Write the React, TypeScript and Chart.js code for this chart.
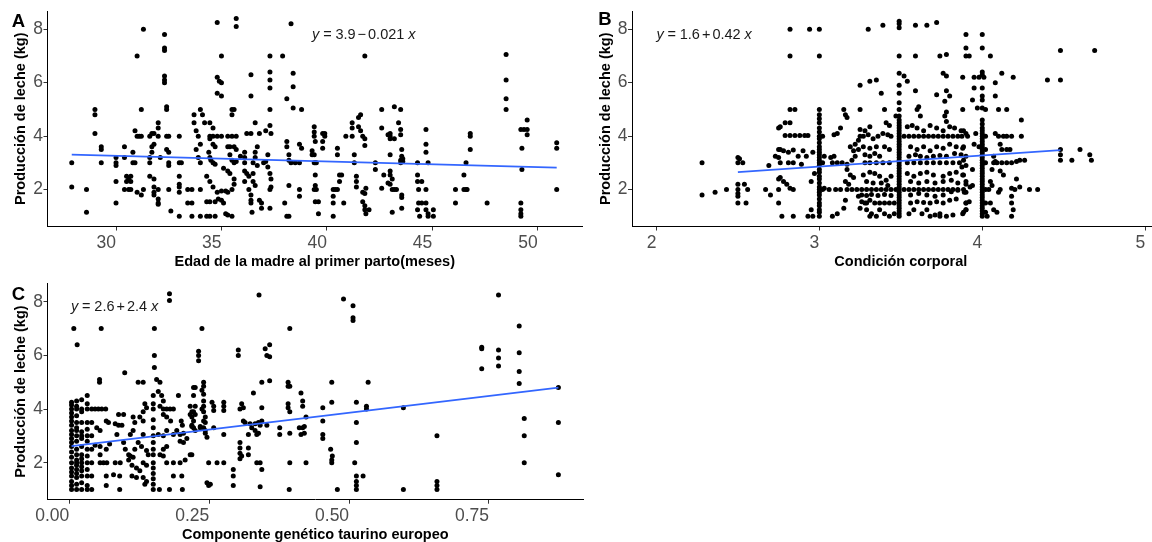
import React, { useEffect, useRef } from "react";
import { Chart, registerables } from "chart.js";
Chart.register(...registerables);

type P = [number, number];

// Panel A: Edad de la madre al primer parto (meses) vs producción de leche (kg)
const ageMilkPoints: P[] = [
  [27.9,3.0],[27.9,2.1],[28.6,2.0],[28.6,1.15],[29.0,5.0],[29.0,4.8],[29.0,4.1],[29.3,3.6],[29.3,3.5],[29.3,3.0],
  [30.0,3.0],[30.0,2.9],[30.0,3.2],[30.0,2.3],[30.0,1.5],[30.4,3.6],[30.4,3.2],[30.5,2.5],[30.6,2.4],[30.7,2.3],[30.5,2.3],[30.7,2.5],[30.4,2.0],[30.6,2.0],[30.7,2.0],[30.8,3.0],[30.9,3.0],[30.8,3.4],[30.9,4.2],[31.0,4.0],[31.1,4.0],[31.2,4.0],[31.0,1.9],[31.2,1.8],[31.0,7.0],[31.2,5.0],[31.3,8.0],[31.3,2.0],
  [31.6,4.0],[31.7,4.1],[31.8,4.1],[31.6,3.0],[31.6,3.2],[31.7,3.4],[31.6,2.5],[31.8,2.4],[31.8,2.1],[31.8,1.9],[31.8,1.8],[31.7,3.6],[31.8,3.7],
  [32.0,4.5],[32.0,4.3],[32.0,4.0],[32.0,1.65],[32.0,1.5],[32.0,1.45],[32.0,2.0],[32.1,3.2],
  [32.3,7.8],[32.3,7.3],[32.3,7.2],[32.3,6.25],[32.3,6.1],[32.3,6.0],[32.4,5.1],[32.4,5.0],[32.4,4.0],[32.5,4.0],[32.4,3.5],[32.5,3.4],[32.5,3.0],[32.5,2.9],[32.5,2.0],[32.6,1.2],
  [33.0,4.0],[33.0,3.0],[33.1,3.0],[33.0,2.5],[33.0,2.2],[33.0,2.1],[33.0,1.9],[33.0,1.0],[33.4,2.0],[33.4,1.5],[33.6,1.5],[33.6,1.0],[33.7,4.8],[33.7,4.5],[33.8,3.5],[33.8,4.2],[33.9,4.0],[33.9,3.2],[34.0,3.0],[34.0,1.0],[34.0,2.0],[34.0,5.0],[34.0,3.7],[33.6,2.0],
  [34.8,8.25],[35.7,8.4],[35.7,8.1],[38.3,8.2],
  [35.0,7.0],[37.3,7.0],[37.9,7.0],[41.8,7.0],
  [34.8,6.2],[34.9,6.05],[35.0,6.0],[34.8,5.6],[35.0,5.5],[36.4,6.3],[36.4,5.5],[37.3,6.4],[37.3,6.1],[37.3,5.8],[38.4,6.35],[38.4,5.85],[38.1,5.4],[38.4,5.05],[38.8,5.0],[37.3,5.0],[35.5,5.0],[35.6,5.0],[35.5,4.8],
  [34.1,4.8],[34.2,4.5],[34.45,4.5],[34.6,4.3],[34.45,4.0],[34.6,4.0],[34.8,4.0],[35.0,4.0],[35.3,4.0],[35.5,4.0],[35.7,4.0],[34.45,3.9],[34.6,3.7],[34.7,3.6],[34.4,3.4],[34.45,3.2],[34.5,3.1],[34.6,3.0],[34.7,2.95],
  [34.3,1.55],[34.45,1.55],[34.7,1.55],[34.3,1.0],[34.45,1.0],[34.7,1.0],[34.3,2.5],[34.45,2.3],[34.6,2.1],[34.8,1.9],[34.85,1.65],[35.0,1.6],[35.1,1.5],[35.2,1.1],[35.3,1.05],[35.5,1.0],
  [35.1,2.8],[35.3,2.7],[35.4,2.6],[35.6,2.4],[35.6,2.2],[35.5,2.0],[35.3,1.9],[35.2,1.95],[35.0,1.95],
  [35.3,3.6],[35.4,3.6],[35.6,3.6],[35.7,3.5],[35.4,3.3],[35.5,3.1],[35.6,3.0],[35.7,3.05],[35.9,3.25],
  [36.1,3.4],[36.1,3.2],[36.1,3.0],[36.1,2.7],[36.1,2.3],[36.2,2.6],[36.3,2.5],[36.3,2.0],[36.4,1.8],[36.4,1.6],[36.4,1.5],[36.45,1.15],[36.2,4.1],[36.4,4.1],[36.6,4.5],[36.6,3.4],[36.6,3.2],[36.7,3.6],[36.5,3.0],[36.7,2.9],[36.5,2.6],[36.5,2.3],[36.6,2.15],
  [36.8,4.1],[36.8,1.6],[36.9,1.5],[36.9,1.3],[37.1,4.2],[37.3,4.4],[37.35,4.1],[37.0,3.0],[37.1,3.05],[37.2,2.85],[37.3,2.6],[37.35,2.4],[37.35,2.1],[37.3,2.0],[37.3,1.3],[37.2,3.3],
  [38.1,3.8],[38.1,3.6],[38.2,3.3],[38.2,3.1],[38.3,3.0],[38.2,2.15],[38.0,1.5],[38.1,1.0],[38.2,1.0],[38.5,3.0],[38.7,3.0],[38.7,3.7],[38.8,3.55],[38.7,2.0],[38.7,1.75],
  [39.3,3.3],[39.3,3.45],[39.4,3.3],[39.4,4.35],[39.4,4.15],[39.4,4.0],[39.45,3.8],[39.4,3.0],[39.45,3.0],[39.5,3.0],[39.45,2.55],[39.45,2.15],[39.4,2.0],[39.5,2.0],[39.45,1.55],[39.6,1.55],[39.6,1.1],
  [39.8,4.1],[39.8,3.8],[39.8,3.55],[39.9,4.1],[39.9,4.0],
  [40.3,2.0],[40.3,1.75],[40.3,1.5],[40.3,1.0],[40.4,2.0],[40.5,2.0],[40.5,3.55],[40.5,3.3],[40.6,2.55],[40.6,2.3],[40.7,2.55],[40.8,1.5],[40.9,4.0],
  [41.2,4.5],[41.2,4.3],[41.2,4.0],[41.3,3.3],[41.3,3.0],[41.4,2.5],[41.4,2.3],[41.4,2.1],[41.5,4.7],[41.6,4.8],[41.5,4.35],[41.6,4.2],[41.7,4.0],[41.8,3.9],[41.8,3.65],[41.7,1.9],[41.8,1.85],[41.85,2.05],[41.7,1.55],[41.8,1.4],[41.8,1.25],[41.85,1.1],[42.0,1.25],[42.3,3.0],[42.3,2.75],[42.6,5.0],[42.6,4.3],[42.6,2.05],[42.9,4.05],[42.9,2.25],
  [43.0,4.1],[43.0,4.0],[43.0,3.9],[43.2,3.9],[43.2,5.1],[43.5,5.0],[43.0,3.3],[42.7,2.55],[43.0,2.2],[43.0,2.7],[43.0,2.55],[43.1,2.4],[43.1,2.0],[43.2,2.0],[43.3,2.0],[43.1,1.15],[43.4,4.5],[43.5,4.25],[43.5,4.05],[43.55,3.5],[43.55,3.25],[43.5,3.1],[43.5,3.0],[43.6,3.05],[43.6,3.15],[43.55,1.8],[43.55,1.7],[43.55,1.3],
  [44.3,3.0],[44.3,2.55],[44.3,2.3],[44.35,2.0],[44.7,2.0],[44.35,1.5],[44.5,1.5],[44.7,1.5],[44.3,1.25],[44.4,1.0],[44.5,2.3],[44.7,4.25],[44.7,3.7],[44.7,3.4],[44.8,3.0],[44.7,1.25],[44.8,1.1],[44.8,1.0],[45.05,1.25],[45.05,1.0],
  [46.1,2.0],[46.1,1.5],[46.5,2.55],[46.5,2.0],[46.6,2.0],[46.65,2.0],[46.6,3.0],[46.8,4.1],[46.8,4.0],[46.8,3.5],[47.6,1.5],
  [48.5,7.05],[48.5,6.1],[48.5,5.4],[48.5,5.0],
  [49.2,4.25],[49.35,4.25],[49.5,4.6],[49.5,4.25],[49.5,4.05],[49.25,3.55],[49.25,2.75],[49.2,1.5],[49.2,1.25],[49.2,1.1],[49.2,1.0],
  [50.9,3.75],[50.9,3.55],[50.9,2.0],
];

// Panel B: Condición corporal vs producción de leche (kg)
const conditionMilkPoints: P[] = [
  [2.28,3.0],[2.28,1.8],[2.36,1.9],[2.43,2.0],[2.5,3.2],[2.51,3.15],[2.5,3.0],[2.53,3.0],[2.5,2.2],[2.5,2.0],[2.5,1.85],[2.5,1.75],[2.5,1.5],[2.54,2.2],[2.56,2.0],[2.55,1.5],[2.67,2.0],[2.7,1.8],[2.69,2.9],[2.75,4.3],[2.75,3.5],[2.75,3.2],[2.75,2.4],[2.75,2.0],[2.75,1.5],
  [2.82,8.0],[2.94,8.0],[2.82,7.0],[2.82,5.0],[2.85,5.0],[2.79,4.5],[2.82,4.5],[2.79,4.02],[2.82,4.02],[2.85,4.02],[2.88,4.02],[2.91,4.02],[2.93,4.02],[2.76,4.35],[2.76,3.5],[2.78,3.45],[2.81,3.4],[2.84,3.48],[2.87,3.25],[2.9,3.45],[2.73,3.25],[2.76,3.0],[2.81,3.0],[2.84,3.0],[2.89,2.95],[2.92,3.25],[2.96,3.4],[2.76,2.45],[2.78,2.3],[2.8,2.2],[2.82,2.05],[2.84,2.0],[2.77,1.0],[2.84,1.0],[2.93,1.0],[2.95,1.25],[2.96,1.0],[2.97,2.6],[2.95,2.3],
  [3.0,1.0],[3.0,1.15],[3.0,1.25],[3.0,1.4],[3.0,1.5],[3.0,1.65],[3.0,1.8],[3.0,1.9],[3.0,2.0],[3.0,2.1],[3.0,2.25],[3.0,2.4],[3.0,2.5],[3.0,2.65],[3.0,2.75],[3.0,2.9],[3.0,3.0],[3.0,3.1],[3.0,3.2],[3.0,3.3],[3.0,3.4],[3.0,3.5],[3.0,3.6],[3.0,3.75],[3.0,3.9],[3.0,4.0],[3.0,4.15],[3.0,4.3],[3.0,4.5],[3.0,4.65],[3.0,4.8],[3.0,5.0],[3.0,7.0],[3.0,8.0],[3.02,2.0],[3.02,3.0],[3.02,4.0],
  [3.03,3.25],[3.07,3.2],[3.09,3.25],[3.08,3.0],[3.11,3.0],[3.14,3.0],[3.17,2.95],[3.2,3.1],[3.22,3.25],[3.09,4.05],[3.11,4.1],[3.13,4.3],[3.03,2.05],[3.06,2.0],[3.1,2.0],[3.13,2.0],[3.16,1.6],[3.15,1.3],[3.11,1.1],[3.08,1.0],[3.17,2.75],[3.19,2.55],[3.21,2.45],[3.16,2.3],[3.18,2.2],[3.19,3.6],[3.22,3.7],[3.24,3.85],[3.25,4.0],[3.21,3.45],[3.24,3.5],[3.25,4.25],
  [3.15,5.0],[3.16,4.8],[3.17,4.7],[3.25,5.0],[3.25,5.9],[3.31,6.05],[3.35,6.1],[3.38,5.6],[3.4,5.0],[3.3,8.0],[3.39,8.15],
  [3.24,1.75],[3.26,1.55],[3.29,1.5],[3.31,1.6],[3.25,1.3],[3.29,1.25],[3.32,1.1],[3.35,1.0],[3.31,1.0],
  [3.17,2.0],[3.2,2.0],[3.23,2.0],[3.26,2.0],[3.29,2.0],[3.32,2.0],[3.35,2.0],[3.38,2.0],[3.41,2.0],[3.44,2.0],[3.47,2.0],
  [3.28,1.5],[3.34,1.5],[3.37,1.5],[3.40,1.5],[3.43,1.5],[3.46,1.5],
  [3.28,3.3],[3.31,3.25],[3.34,3.35],[3.37,3.25],[3.28,3.0],[3.31,3.0],[3.35,3.0],[3.39,3.0],[3.43,3.0],
  [3.27,4.0],[3.3,4.05],[3.33,3.9],[3.36,4.0],[3.39,4.1],[3.42,4.05],[3.44,4.0],[3.31,4.35],[3.28,4.2],[3.41,4.5],[3.43,4.4],
  [3.27,3.6],[3.31,3.55],[3.35,3.6],[3.4,3.6],[3.43,3.5],
  [3.27,2.55],[3.31,2.65],[3.34,2.6],[3.37,2.5],[3.41,2.35],[3.44,2.5],[3.29,2.3],[3.33,2.25],[3.38,2.25],[3.42,2.15],
  [3.26,1.8],[3.29,1.78],[3.32,1.82],[3.36,1.78],[3.4,1.82],[3.44,1.78],
  [3.37,1.25],[3.4,1.1],[3.43,1.0],[3.46,1.1],[3.47,4.75],
  [3.49,1.0],[3.49,1.1],[3.49,1.2],[3.49,1.3],[3.49,1.4],[3.49,1.5],[3.49,1.6],[3.49,1.7],[3.49,1.8],[3.49,1.9],[3.49,2.0],[3.49,2.1],[3.49,2.2],[3.49,2.3],[3.49,2.4],[3.49,2.5],[3.49,2.6],[3.49,2.7],[3.49,2.8],[3.49,2.9],[3.49,3.0],[3.49,3.1],[3.49,3.2],[3.49,3.3],[3.49,3.4],[3.49,3.5],[3.49,3.6],[3.49,3.7],[3.49,3.8],[3.49,3.9],[3.49,4.0],[3.49,4.1],[3.49,4.2],[3.49,4.3],[3.49,4.4],[3.49,4.5],[3.49,4.6],[3.49,4.75],[3.49,5.0],[3.49,5.25],[3.49,5.6],[3.49,5.9],[3.49,6.35],[3.52,6.25],[3.54,6.05],[3.49,7.0],[3.49,8.05],[3.49,8.2],[3.49,8.3],
  [3.59,8.15],[3.66,8.15],[3.72,8.25],[3.59,7.0],[3.74,7.0],[3.78,7.05],[3.9,7.0],[3.9,7.8],[3.76,6.35],[3.78,6.25],[3.88,6.2],[3.59,5.7],[3.78,5.7],[3.8,5.5],[3.77,5.3],[3.72,5.55],[3.88,5.0],[3.6,5.0],[3.61,5.1],[3.78,4.9],[3.77,4.75],[3.78,4.55],[3.62,4.75],
  [3.52,4.0],[3.55,4.0],[3.58,4.0],[3.61,4.0],[3.64,4.0],[3.67,4.0],[3.70,4.0],[3.73,4.0],[3.76,4.0],[3.79,4.0],[3.82,4.0],[3.85,4.0],[3.91,4.0],
  [3.54,3.0],[3.58,3.0],[3.62,3.0],[3.66,3.0],[3.7,3.0],[3.74,3.0],[3.78,3.0],[3.82,3.0],[3.86,3.0],
  [3.52,2.0],[3.55,2.0],[3.58,2.0],[3.61,2.0],[3.64,2.0],[3.67,2.0],[3.7,2.0],[3.73,2.0],[3.76,2.0],[3.79,2.0],[3.82,2.0],[3.85,2.0],
  [3.54,4.35],[3.57,4.4],[3.6,4.3],[3.64,4.2],[3.68,4.4],[3.72,4.3],[3.76,4.2],[3.8,4.35],[3.83,4.3],[3.87,4.2],
  [3.56,3.6],[3.6,3.5],[3.64,3.6],[3.68,3.45],[3.72,3.6],[3.76,3.55],[3.8,3.7],[3.84,3.6],[3.88,3.55],
  [3.55,3.25],[3.59,3.3],[3.62,3.25],[3.66,3.2],[3.7,3.25],[3.74,3.28],[3.78,3.25],[3.83,3.35],[3.87,3.3],
  [3.54,2.6],[3.58,2.5],[3.62,2.6],[3.66,2.65],[3.7,2.55],[3.76,2.5],[3.8,2.6],[3.84,2.65],[3.88,2.55],
  [3.56,2.3],[3.61,2.25],[3.66,2.3],[3.71,2.25],[3.76,2.3],[3.81,2.35],[3.85,2.25],[3.9,2.3],
  [3.56,1.8],[3.61,1.85],[3.66,1.8],[3.71,1.75],[3.76,1.8],[3.81,1.92],[3.85,1.98],[3.89,1.9],
  [3.56,1.5],[3.6,1.55],[3.64,1.52],[3.68,1.5],[3.72,1.55],[3.76,1.5],[3.8,1.6],[3.84,1.65],[3.9,1.5],
  [3.55,1.1],[3.58,1.25],[3.63,1.1],[3.66,1.25],[3.71,1.05],[3.74,1.1],[3.78,1.0],[3.82,1.05],[3.88,1.1],[3.9,1.25],[3.68,1.0],[3.74,1.0],
  [4.0,7.8],[3.9,7.3],[4.0,7.3],[3.92,7.0],[4.05,7.0],[4.48,7.2],[4.69,7.2],
  [4.0,6.4],[4.0,6.3],[3.98,6.2],[4.01,6.2],[3.95,6.2],[4.12,6.35],[4.19,6.2],[4.4,6.1],[4.48,6.1],[4.08,6.0],[3.95,5.8],[4.0,5.8],[4.08,5.5],[4.0,5.5],[4.0,5.35],[3.94,5.35],[3.97,5.05],[4.0,5.05],[4.02,5.0],[4.1,5.0],[4.15,5.0],[4.24,4.6],[4.0,4.6],
  [4.0,1.0],[4.0,1.1],[4.0,1.2],[4.0,1.3],[4.0,1.4],[4.0,1.5],[4.0,1.6],[4.0,1.7],[4.0,1.8],[4.0,1.9],[4.0,2.0],[4.0,2.1],[4.0,2.2],[4.0,2.3],[4.0,2.4],[4.0,2.5],[4.0,2.6],[4.0,2.7],[4.0,2.8],[4.0,2.9],[4.0,3.0],[4.0,3.1],[4.0,3.2],[4.0,3.3],[4.0,3.4],[4.0,3.5],[4.0,3.6],[4.0,3.7],[4.0,3.8],[4.0,3.9],[4.0,4.0],[4.0,4.1],[4.0,4.2],[4.0,4.3],[4.0,4.45],[4.02,3.0],[4.02,2.0],[4.02,4.0],[4.02,3.5],[4.02,1.5],
  [4.08,4.1],[4.1,4.0],[4.13,4.0],[4.15,4.0],[4.18,4.0],[4.24,4.0],[3.885,4.2],[3.9,4.1],[3.875,4.0],[3.96,4.1],
  [3.95,3.7],[3.98,3.6],[4.11,3.7],[4.12,3.5],[4.15,3.5],[4.17,3.5],[3.885,3.6],
  [4.07,3.25],[4.08,3.05],[4.07,3.0],[4.09,3.0],[4.12,3.0],[4.15,3.0],[4.18,3.0],[4.21,3.05],[4.23,3.1],[4.26,3.1],[4.48,3.5],[4.48,3.3],[4.48,3.1],[4.55,3.1],[4.6,3.5],[4.66,3.3],[4.67,3.1],
  [3.885,3.1],[3.9,3.25],[3.875,2.85],[3.9,2.9],[3.94,2.75],
  [3.885,2.55],[3.9,2.2],[3.925,2.1],[3.885,2.0],[3.9,1.9],[3.94,2.15],
  [4.06,2.75],[4.11,2.7],[4.13,2.55],[4.05,2.3],[4.06,2.15],[4.04,2.0],[4.11,2.0],[4.1,1.9],[4.18,2.05],[4.2,2.0],[4.23,2.1],[4.21,2.4],[4.29,2.0],[4.34,2.0],[4.18,1.75],[4.18,1.5],[4.19,1.25],[4.18,1.0],
  [4.05,1.5],[4.07,1.25],[4.09,1.15],[3.9,1.5],[3.9,1.25],[3.885,1.15],[3.92,1.55],[4.02,1.15],[4.03,1.0],
];

// Panel C: Componente genético taurino europeo vs producción de leche (kg)
const taurineMilkPoints: P[] = [
  [0.004,1.0],[0.004,1.15],[0.004,1.3],[0.004,1.5],[0.004,1.65],[0.004,1.8],[0.004,2.0],[0.004,2.2],[0.004,2.4],[0.004,2.6],[0.004,2.75],[0.004,2.9],[0.004,3.05],[0.004,3.2],[0.004,3.4],[0.004,3.55],[0.004,3.7],[0.004,3.85],[0.004,4.0],[0.004,4.15],[0.004,4.25],
  [0.013,1.0],[0.013,1.2],[0.013,1.45],[0.013,1.6],[0.013,1.75],[0.013,1.9],[0.013,2.0],[0.013,2.1],[0.013,2.3],[0.013,2.5],[0.013,2.8],[0.013,3.0],[0.013,3.2],[0.013,3.3],[0.013,3.5],[0.013,3.75],[0.013,4.0],[0.013,4.1],[0.013,4.3],
  [0.022,1.0],[0.022,1.25],[0.022,1.5],[0.022,1.7],[0.022,1.85],[0.022,2.0],[0.022,2.15],[0.022,2.3],[0.022,2.6],[0.022,2.9],[0.022,3.0],[0.022,3.15],[0.022,3.5],[0.022,3.9],[0.022,4.0],[0.022,4.35],
  [0.032,1.0],[0.032,1.15],[0.032,1.5],[0.032,1.75],[0.032,2.0],[0.032,2.25],[0.032,2.5],[0.032,2.8],[0.032,3.0],[0.032,3.25],[0.032,3.5],[0.032,4.0],[0.032,4.2],[0.032,4.5],
  [0.04,1.5],[0.04,2.0],[0.04,3.0],[0.04,3.5],[0.04,4.0],[0.04,2.5],[0.04,1.0],
  [0.008,7.0],[0.014,6.4],
  [0.046,4.0],[0.052,4.0],[0.058,4.0],[0.065,4.0],[0.055,3.2],[0.049,3.3],[0.046,2.65],[0.055,2.6],[0.055,2.0],[0.061,2.0],[0.067,2.0],[0.055,2.3],
  [0.054,5.1],[0.054,5.0],[0.057,7.0],
  [0.066,3.55],[0.07,3.5],[0.066,1.5],[0.066,1.15],[0.066,2.5],[0.072,2.7],
  [0.082,3.45],[0.088,3.4],[0.094,3.4],[0.088,3.8],[0.097,3.8],[0.085,3.05],[0.082,2.0],[0.091,2.0],[0.09,1.0],[0.09,1.5],[0.079,1.55],
  [0.099,5.35],
  [0.097,2.75],[0.1,2.5],[0.106,2.3],[0.109,2.25],[0.114,2.2],[0.117,2.5],[0.106,2.1],[0.112,1.9],[0.12,1.8],[0.126,1.7],[0.112,1.5],[0.12,1.45],[0.114,3.7],[0.117,3.5],[0.109,3.05],[0.114,3.2],
  [0.123,5.0],[0.132,5.0],[0.135,4.2],[0.138,4.05],[0.132,3.9],[0.126,3.7],[0.132,3.55],[0.132,3.05],[0.123,2.75],[0.129,2.6],[0.138,2.45],[0.141,2.3],[0.132,2.0],[0.138,1.9],[0.132,1.45],[0.138,1.3],[0.135,1.2],
  [0.15,1.0],[0.15,1.2],[0.15,1.4],[0.15,1.6],[0.15,1.8],[0.15,2.0],[0.15,2.3],[0.15,2.5],[0.15,2.75],[0.15,3.0],[0.15,3.3],[0.15,3.6],[0.15,4.0],[0.15,4.2],[0.15,4.5],[0.152,7.0],[0.152,6.0],[0.152,5.55],
  [0.156,5.1],[0.162,5.0],[0.159,4.65],[0.165,4.5],[0.168,4.3],[0.159,3.05],[0.168,3.0],[0.174,3.2],[0.162,4.1],[0.168,4.0],[0.174,4.0],[0.18,4.0],[0.186,4.0],[0.168,3.8],[0.174,3.7],[0.181,3.55],[0.162,2.3],[0.168,2.25],[0.174,2.0],[0.186,2.0],[0.161,1.0],[0.179,1.0],[0.186,1.5],[0.168,2.5],[0.174,2.6],
  [0.179,8.3],[0.179,8.05],
  [0.186,3.05],[0.192,3.2],[0.198,3.05],[0.204,3.1],[0.2,3.55],[0.202,3.4],[0.198,2.8],[0.204,2.75],[0.195,4.5],[0.201,1.5],[0.202,1.0],[0.198,2.0],[0.207,2.1],[0.219,2.3],
  [0.216,4.1],[0.219,3.9],[0.222,4.8],[0.219,3.35],[0.225,3.2],[0.222,3.55],
  [0.231,6.15],[0.231,6.0],[0.231,5.8],[0.21,2.9],[0.234,3.35],
  [0.237,7.0],[0.24,5.0],[0.24,4.85],[0.237,4.7],[0.24,4.55],[0.225,4.8],[0.222,4.5],
  [0.24,4.3],[0.24,4.1],[0.237,4.0],[0.24,3.9],[0.243,3.7],[0.24,3.55],[0.243,3.5],
  [0.216,3.8],[0.225,4.1],[0.222,3.9],[0.225,3.8],[0.219,3.7],[0.219,3.4],[0.222,3.3],
  [0.234,3.3],[0.24,3.3],[0.243,3.2],[0.246,2.95],[0.243,3.1],[0.258,3.3],
  [0.249,2.0],[0.264,2.0],[0.276,2.0],[0.246,1.25],[0.249,1.15],[0.252,1.2],
  [0.255,4.25],[0.258,4.1],[0.258,3.95],[0.276,4.25],[0.276,4.1],[0.276,3.95],[0.276,3.05],[0.216,2.3],
  [0.293,1.75],[0.293,1.5],[0.293,1.15],
  [0.302,6.2],[0.302,6.0],[0.308,4.2],[0.311,4.05],[0.305,4.0],[0.305,2.75],[0.305,2.55],[0.305,2.35],[0.308,2.25],[0.305,2.15],[0.32,2.55],[0.32,2.3],[0.311,3.55],[0.314,3.5],[0.32,3.05],[0.326,3.3],[0.329,4.6],
  [0.323,3.45],[0.332,3.45],[0.338,3.5],[0.341,3.4],[0.344,3.55],[0.332,3.2],[0.335,3.05],[0.338,3.1],
  [0.335,2.0],[0.341,2.0],[0.344,1.75],[0.341,1.1],[0.344,5.0],[0.344,4.05],[0.353,3.4],
  [0.35,6.25],[0.353,6.0],[0.358,6.4],[0.358,5.95],[0.358,5.05],[0.339,8.25],
  [0.376,3.3],[0.376,3.05],[0.391,4.2],[0.391,4.05],[0.394,3.9],[0.394,3.1],[0.394,2.0],[0.393,1.0],[0.391,5.0],[0.391,4.85],[0.394,4.85],[0.394,7.0],
  [0.414,4.6],[0.417,4.3],[0.417,4.1],[0.411,3.3],[0.417,3.3],[0.42,3.35],[0.414,3.05],[0.42,3.1],[0.423,3.7],[0.423,2.0],
  [0.453,4.05],[0.453,3.55],[0.453,3.05],[0.453,2.9],[0.469,5.0],[0.469,4.25],[0.467,2.5],[0.47,2.25],[0.469,2.1],[0.469,2.0],[0.479,1.0],
  [0.49,8.1],[0.507,7.85],[0.507,7.4],[0.507,7.3],
  [0.513,4.25],[0.513,3.5],[0.513,2.75],[0.51,2.0],[0.513,1.5],[0.513,1.3],[0.513,1.15],[0.513,1.0],[0.525,1.5],
  [0.531,4.1],[0.531,4.0],[0.534,5.0],
  [0.597,4.05],[0.597,1.0],[0.657,3.0],[0.657,1.3],[0.657,1.15],[0.657,1.0],[0.737,6.3],[0.737,6.25],[0.737,5.5],[0.767,8.25],[0.767,6.2],[0.767,5.9],[0.767,5.6],[0.804,7.1],[0.804,6.1],[0.804,5.4],[0.804,4.95],[0.813,3.65],[0.813,3.0],[0.813,2.0],[0.874,4.8],[0.874,3.5],[0.874,1.55],
];

// Fitted regression lines (end points)
const ageFitLine: P[] = [[27.9, 3.31], [50.9, 2.82]];
const conditionFitLine: P[] = [[2.5, 2.65], [4.48, 3.48]];
const taurineFitLine: P[] = [[0.004, 2.62], [0.874, 4.8]];

// Equations
const ageEquation = ["y", "=", "3.9", "\u2212", "0.021", "x"];
const conditionEquation = ["y", "=", "1.6", "+", "0.42", "x"];
const taurineEquation = ["y", "=", "2.6", "+", "2.4", "x"];

// Ticks
const milkTicks = [2, 4, 6, 8];
const ageTicks = [30, 35, 40, 45, 50];
const ageTickLabels = ["30", "35", "40", "45", "50"];
const conditionTicks = [2, 3, 4, 5];
const conditionTickLabels = ["2", "3", "4", "5"];
const taurineTicks = [0, 0.25, 0.5, 0.75];
const taurineTickLabels = ["0.00", "0.25", "0.50", "0.75"];

const yTitle = "Producción de leche (kg)";
const FONT = "'Liberation Sans', Arimo, Arial, sans-serif";

interface PanelCfg {
  letter: string;
  letterPos: [number, number];
  box: { left: number; top: number; width: number; height: number };
  area: { left: number; top: number; right: number; bottom: number };
  xMin: number; xMax: number; yMin: number; yMax: number;
  xTicks: number[]; xTickLabels: string[];
  xTitle: string; xTitlePad: number;
  points: P[]; fit: P[];
  eq: string[]; eqPos: [number, number];
}

const panels: PanelCfg[] = [
  {
    letter: "A", letterPos: [11.7, 26.7],
    box: { left: 0, top: 0, width: 590, height: 272 },
    area: { left: 47.5, top: 10, right: 582, bottom: 226.5 },
    xMin: 26.75, xMax: 52.1, yMin: 0.62, yMax: 8.68,
    xTicks: ageTicks, xTickLabels: ageTickLabels,
    xTitle: "Edad de la madre al primer parto(meses)", xTitlePad: 1.5,
    points: ageMilkPoints, fit: ageFitLine,
    eq: ageEquation, eqPos: [39.3, 7.8],
  },
  {
    letter: "B", letterPos: [18.3, 25],
    box: { left: 580, top: 0, width: 600, height: 272 },
    area: { left: 52, top: 10, right: 589.6, bottom: 226.5 },
    xMin: 1.85, xMax: 5.15, yMin: 0.62, yMax: 8.68,
    xTicks: conditionTicks, xTickLabels: conditionTickLabels,
    xTitle: "Condición corporal", xTitlePad: 1.5,
    points: conditionMilkPoints, fit: conditionFitLine,
    eq: conditionEquation, eqPos: [2.0, 7.8],
  },
  {
    letter: "C", letterPos: [11.7, 28],
    box: { left: 0, top: 272, width: 600, height: 280 },
    area: { left: 47.5, top: 11.5, right: 583, bottom: 227.7 },
    xMin: -0.039, xMax: 0.918, yMin: 0.62, yMax: 8.68,
    xTicks: taurineTicks, xTickLabels: taurineTickLabels,
    xTitle: "Componente genético taurino europeo", xTitlePad: 8.8,
    points: taurineMilkPoints, fit: taurineFitLine,
    eq: taurineEquation, eqPos: [0.003, 7.8],
  },
];

const tickFont = { family: FONT, size: 17.5 };
const titleFont = { family: FONT, size: 14.5, weight: "bold" as const };
const axisGrid = {
  display: true, drawOnChartArea: false, drawTicks: true,
  tickLength: 4, tickWidth: 1, tickColor: "#333333", color: "#333333",
};
const axisBorder = { display: true, color: "#000000", width: 1 };

function Panel({ cfg }: { cfg: PanelCfg }) {
  const ref = useRef<HTMLCanvasElement>(null);
  useEffect(() => {
    const canvas = ref.current;
    if (!canvas) return;
    const { box, area } = cfg;
    const annot = {
      id: "annot",
      afterDatasetsDraw(chart: any) {
        const ctx = chart.ctx as CanvasRenderingContext2D;
        const xs = chart.scales.x, ys = chart.scales.y;
        ctx.save();
        let px = xs.getPixelForValue(cfg.eqPos[0]);
        const py = ys.getPixelForValue(cfg.eqPos[1]);
        const gaps = [3.8, 3.8, 2, 2, 3.8];
        ctx.fillStyle = "#1a1a1a";
        ctx.textBaseline = "middle";
        ctx.textAlign = "left";
        cfg.eq.forEach((tok, i) => {
          const italic = i === 0 || i === cfg.eq.length - 1;
          ctx.font = `${italic ? "italic " : ""}14.5px ${FONT}`;
          ctx.fillText(tok, px, py);
          px += ctx.measureText(tok).width + (gaps[i] || 0);
        });
        ctx.font = `bold 18.5px ${FONT}`;
        ctx.fillStyle = "#000";
        ctx.textBaseline = "alphabetic";
        ctx.fillText(cfg.letter, cfg.letterPos[0], cfg.letterPos[1]);
        ctx.restore();
      },
    };
    const chart = new Chart(canvas, {
      type: "scatter",
      data: {
        datasets: [
          {
            type: "line",
            data: cfg.fit.map(([x, y]) => ({ x, y })),
            borderColor: "#3366FF",
            borderWidth: 1.8,
            pointRadius: 0,
            fill: false,
          } as any,
          {
            data: cfg.points.map(([x, y]) => ({ x, y })),
            backgroundColor: "#000000",
            borderWidth: 0,
            pointRadius: 2.5,
          },
        ],
      },
      options: {
        responsive: false,
        animation: false,
        devicePixelRatio: 1,
        events: [],
        layout: { padding: { left: 0, top: area.top, right: box.width - area.right, bottom: 0 } },
        plugins: { legend: { display: false }, tooltip: { enabled: false } },
        scales: {
          x: {
            type: "linear",
            min: cfg.xMin, max: cfg.xMax,
            afterBuildTicks: (s: any) => { s.ticks = cfg.xTicks.map((v) => ({ value: v })); },
            afterFit: (s: any) => { s.height = box.height - area.bottom; },
            ticks: {
              font: tickFont, color: "#4D4D4D", padding: 2, align: "end",
              maxRotation: 0, autoSkip: false,
              callback: (v: any) => cfg.xTickLabels[cfg.xTicks.indexOf(Number(v))] ?? "",
            },
            grid: axisGrid,
            border: axisBorder,
            title: { display: true, text: cfg.xTitle, font: titleFont, color: "#000", padding: { top: 0, bottom: cfg.xTitlePad } },
          },
          y: {
            type: "linear",
            min: cfg.yMin, max: cfg.yMax,
            afterBuildTicks: (s: any) => { s.ticks = milkTicks.map((v) => ({ value: v })); },
            afterFit: (s: any) => { s.width = area.left; },
            ticks: { font: tickFont, color: "#4D4D4D", padding: 0.5, callback: (v: any) => String(v) },
            grid: axisGrid,
            border: axisBorder,
            title: { display: true, text: yTitle, font: titleFont, color: "#000", padding: { top: area.left - 26.2 - 8.7, bottom: 0 } },
          },
        },
      } as any,
      plugins: [annot],
    });
    return () => chart.destroy();
  }, [cfg]);
  const { box } = cfg;
  return (
    <canvas
      ref={ref}
      width={box.width}
      height={box.height}
      style={{ position: "absolute", left: box.left, top: box.top, width: box.width, height: box.height }}
    />
  );
}

export default function App() {
  return (
    <div style={{ position: "absolute", left: 0, top: 0, width: 1152, height: 542, overflow: "hidden", background: "#fff" }}>
      {panels.map((p) => (
        <Panel key={p.letter} cfg={p} />
      ))}
    </div>
  );
}
